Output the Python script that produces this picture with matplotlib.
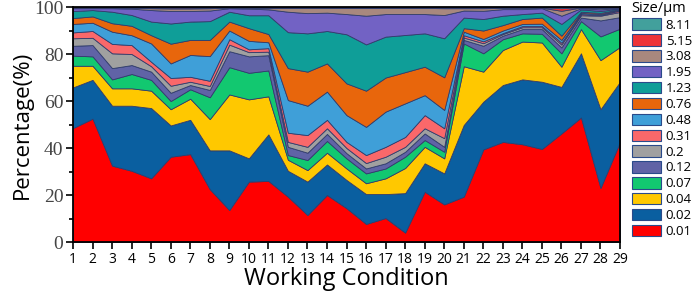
import numpy as np
import matplotlib
matplotlib.use("Agg")
import matplotlib.pyplot as plt
from matplotlib.patches import Patch
from matplotlib.ticker import MultipleLocator

# working conditions 1..29
conditions = list(range(1, 30))

# particle size classes (um) and their share (%) at each working condition
sizes = ["0.01", "0.02", "0.04", "0.07", "0.12", "0.2", "0.31",
         "0.48", "0.76", "1.23", "1.95", "3.08", "5.15", "8.11"]

s001 = [48.5, 52.5, 32.5, 30.3, 27.1, 36.3, 37.4, 22.5, 13.6, 25.7, 26.0, 19.3, 11.5, 20.0, 14.4,
        7.7, 10.2, 4.0, 21.4, 16.0, 19.3, 39.4, 42.6, 41.6, 39.6, 46.2, 53.0, 23.0, 42.6]
s002 = [17.3, 16.5, 25.5, 27.7, 29.9, 13.3, 14.6, 16.5, 25.4, 9.9, 19.8, 11.0, 14.2, 13.0, 12.0,
        12.7, 10.2, 16.8, 12.1, 13.2, 30.5, 20.3, 24.2, 27.6, 28.6, 19.8, 27.3, 33.5, 25.6]
s004 = [9.2, 6.0, 7.4, 7.4, 7.4, 6.9, 9.0, 13.3, 23.8, 25.1, 16.2, 4.7, 4.9, 5.0, 4.9,
        4.6, 6.7, 10.7, 7.0, 6.4, 25.0, 12.8, 14.9, 16.1, 16.7, 8.6, 10.3, 20.9, 14.8]
s007 = [4.3, 4.0, 3.8, 6.1, 4.6, 3.5, 4.0, 9.3, 11.6, 11.3, 11.0, 2.0, 4.3, 5.0, 4.3,
        4.2, 4.2, 4.8, 2.9, 2.8, 9.7, 7.8, 4.6, 3.5, 3.7, 5.7, 3.4, 10.1, 7.8]
s012 = [4.2, 4.8, 4.8, 3.8, 3.5, 3.5, 1.8, 3.1, 6.8, 7.0, 6.5, 3.5, 3.1, 3.0, 2.2,
        2.1, 2.2, 2.1, 2.8, 2.1, 1.5, 3.2, 1.5, 1.8, 2.0, 2.5, 1.5, 6.8, 4.9]
s020 = [3.2, 3.1, 6.3, 4.7, 2.3, 3.0, 1.4, 1.7, 2.8, 1.8, 1.5, 2.1, 2.5, 2.4, 2.2,
        2.3, 2.8, 2.1, 2.2, 3.7, 1.0, 1.1, 0.7, 0.8, 0.8, 1.2, 1.0, 2.0, 2.2]
s031 = [2.5, 2.9, 4.0, 3.8, 1.9, 3.3, 2.1, 2.2, 2.3, 1.2, 1.5, 3.9, 5.0, 3.6, 2.6,
        3.4, 4.2, 4.2, 5.6, 4.2, 1.0, 0.8, 0.4, 0.5, 0.5, 0.8, 0.5, 0.3, 0.6]
s048 = [3.6, 3.5, 5.2, 4.2, 7.8, 6.2, 9.3, 10.5, 3.7, 3.6, 2.5, 13.9, 12.5, 12.0, 11.4,
        12.0, 15.0, 14.3, 8.5, 7.8, 1.5, 1.0, 1.1, 0.9, 1.0, 1.2, 0.5, 0.4, 0.3]
s076 = [2.5, 2.7, 3.6, 4.0, 3.5, 8.4, 6.4, 6.9, 3.8, 5.4, 3.5, 13.6, 14.5, 12.0, 13.5,
        15.4, 14.5, 13.3, 12.1, 13.9, 1.5, 3.6, 2.3, 2.1, 2.6, 1.8, 0.5, 0.5, 0.3]
s123 = [3.0, 2.7, 4.9, 4.6, 5.8, 8.6, 7.8, 8.0, 4.2, 5.5, 8.0, 15.3, 16.3, 13.8, 20.9,
        19.7, 17.4, 15.8, 14.2, 16.6, 4.5, 4.9, 4.0, 2.1, 2.1, 5.0, 1.0, 0.8, 0.3]
s195 = [1.2, 0.8, 1.5, 2.7, 4.9, 5.3, 4.5, 4.5, 1.5, 2.8, 2.5, 8.7, 8.6, 7.8, 8.6,
        12.2, 9.6, 8.9, 8.2, 9.9, 3.0, 3.5, 2.8, 2.1, 1.9, 3.5, 0.5, 0.7, 0.2]
s308 = [0.2, 0.2, 0.2, 0.3, 0.8, 1.1, 1.1, 1.0, 0.2, 0.3, 0.5, 1.6, 2.2, 2.0, 2.6,
        3.3, 2.6, 2.6, 2.6, 2.9, 1.0, 1.1, 0.5, 0.5, 0.2, 2.1, 0.3, 0.5, 0.2]
s515 = [0.15, 0.15, 0.15, 0.2, 0.3, 0.4, 0.4, 0.3, 0.15, 0.2, 0.3, 0.2, 0.2, 0.2, 0.2,
        0.2, 0.2, 0.2, 0.2, 0.3, 0.3, 0.3, 0.2, 0.2, 0.15, 1.1, 0.1, 0.3, 0.1]
s811 = [0.15, 0.15, 0.15, 0.2, 0.2, 0.2, 0.2, 0.2, 0.15, 0.2, 0.2, 0.2, 0.2, 0.2, 0.2,
        0.2, 0.2, 0.2, 0.2, 0.2, 0.2, 0.2, 0.2, 0.2, 0.15, 0.5, 0.1, 0.2, 0.1]

series = [s001, s002, s004, s007, s012, s020, s031, s048, s076, s123, s195, s308, s515, s811]

colors = ["#ff0000", "#0a5fa0", "#ffc800", "#12c870", "#6063a6", "#a0a0a0", "#fa686a",
          "#3f9fd8", "#e8660c", "#0f9e98", "#7262c4", "#a8887e", "#ee3438", "#42a09c"]

fig = plt.figure(figsize=(6.92, 2.96), dpi=100)
ax = fig.add_axes([0.1055, 0.1824, 0.7905, 0.7939])

ax.stackplot(conditions, *series, colors=colors, edgecolor="#303c6c", linewidth=0.6)

ax.set_xlim(1, 29)
ax.set_ylim(0, 100)
ax.set_xticks(conditions)
ax.set_xticklabels([str(c) for c in conditions], family="Open Sans", fontsize=10)
ax.yaxis.set_major_locator(MultipleLocator(20))
ax.yaxis.set_minor_locator(MultipleLocator(10))
for lab in ax.get_yticklabels():
    lab.set_family("Liberation Serif")
    lab.set_fontsize(14)
    lab.set_color("#444444")
ax.tick_params(axis="both", which="major", direction="out", length=5, width=1.2, pad=2)
ax.tick_params(axis="y", which="minor", direction="out", length=3, width=1.2)
for sp in ax.spines.values():
    sp.set_linewidth(1.3)

ax.set_ylabel("Percentage(%)", family="Open Sans", fontsize=16, labelpad=1)
ax.set_xlabel("Working Condition", family="Open Sans", fontsize=17, labelpad=0)

# legend, largest size on top
handles = [Patch(facecolor=c, edgecolor="#2a4a8a", linewidth=0.8) for c in colors][::-1]
labels = sizes[::-1]
leg = fig.legend(handles, labels, loc="upper left", bbox_to_anchor=(0.905, 1.015),
                 frameon=False, title="Size/\u03bcm",
                 prop={"family": "Open Sans", "size": 9.5},
                 handlelength=2.2, handleheight=0.95, labelspacing=0.2,
                 handletextpad=0.4, borderaxespad=0.0, alignment="left")
leg.get_title().set_fontsize(10.5)
leg.get_title().set_family("Open Sans")

fig.savefig("out.png", dpi=100)
